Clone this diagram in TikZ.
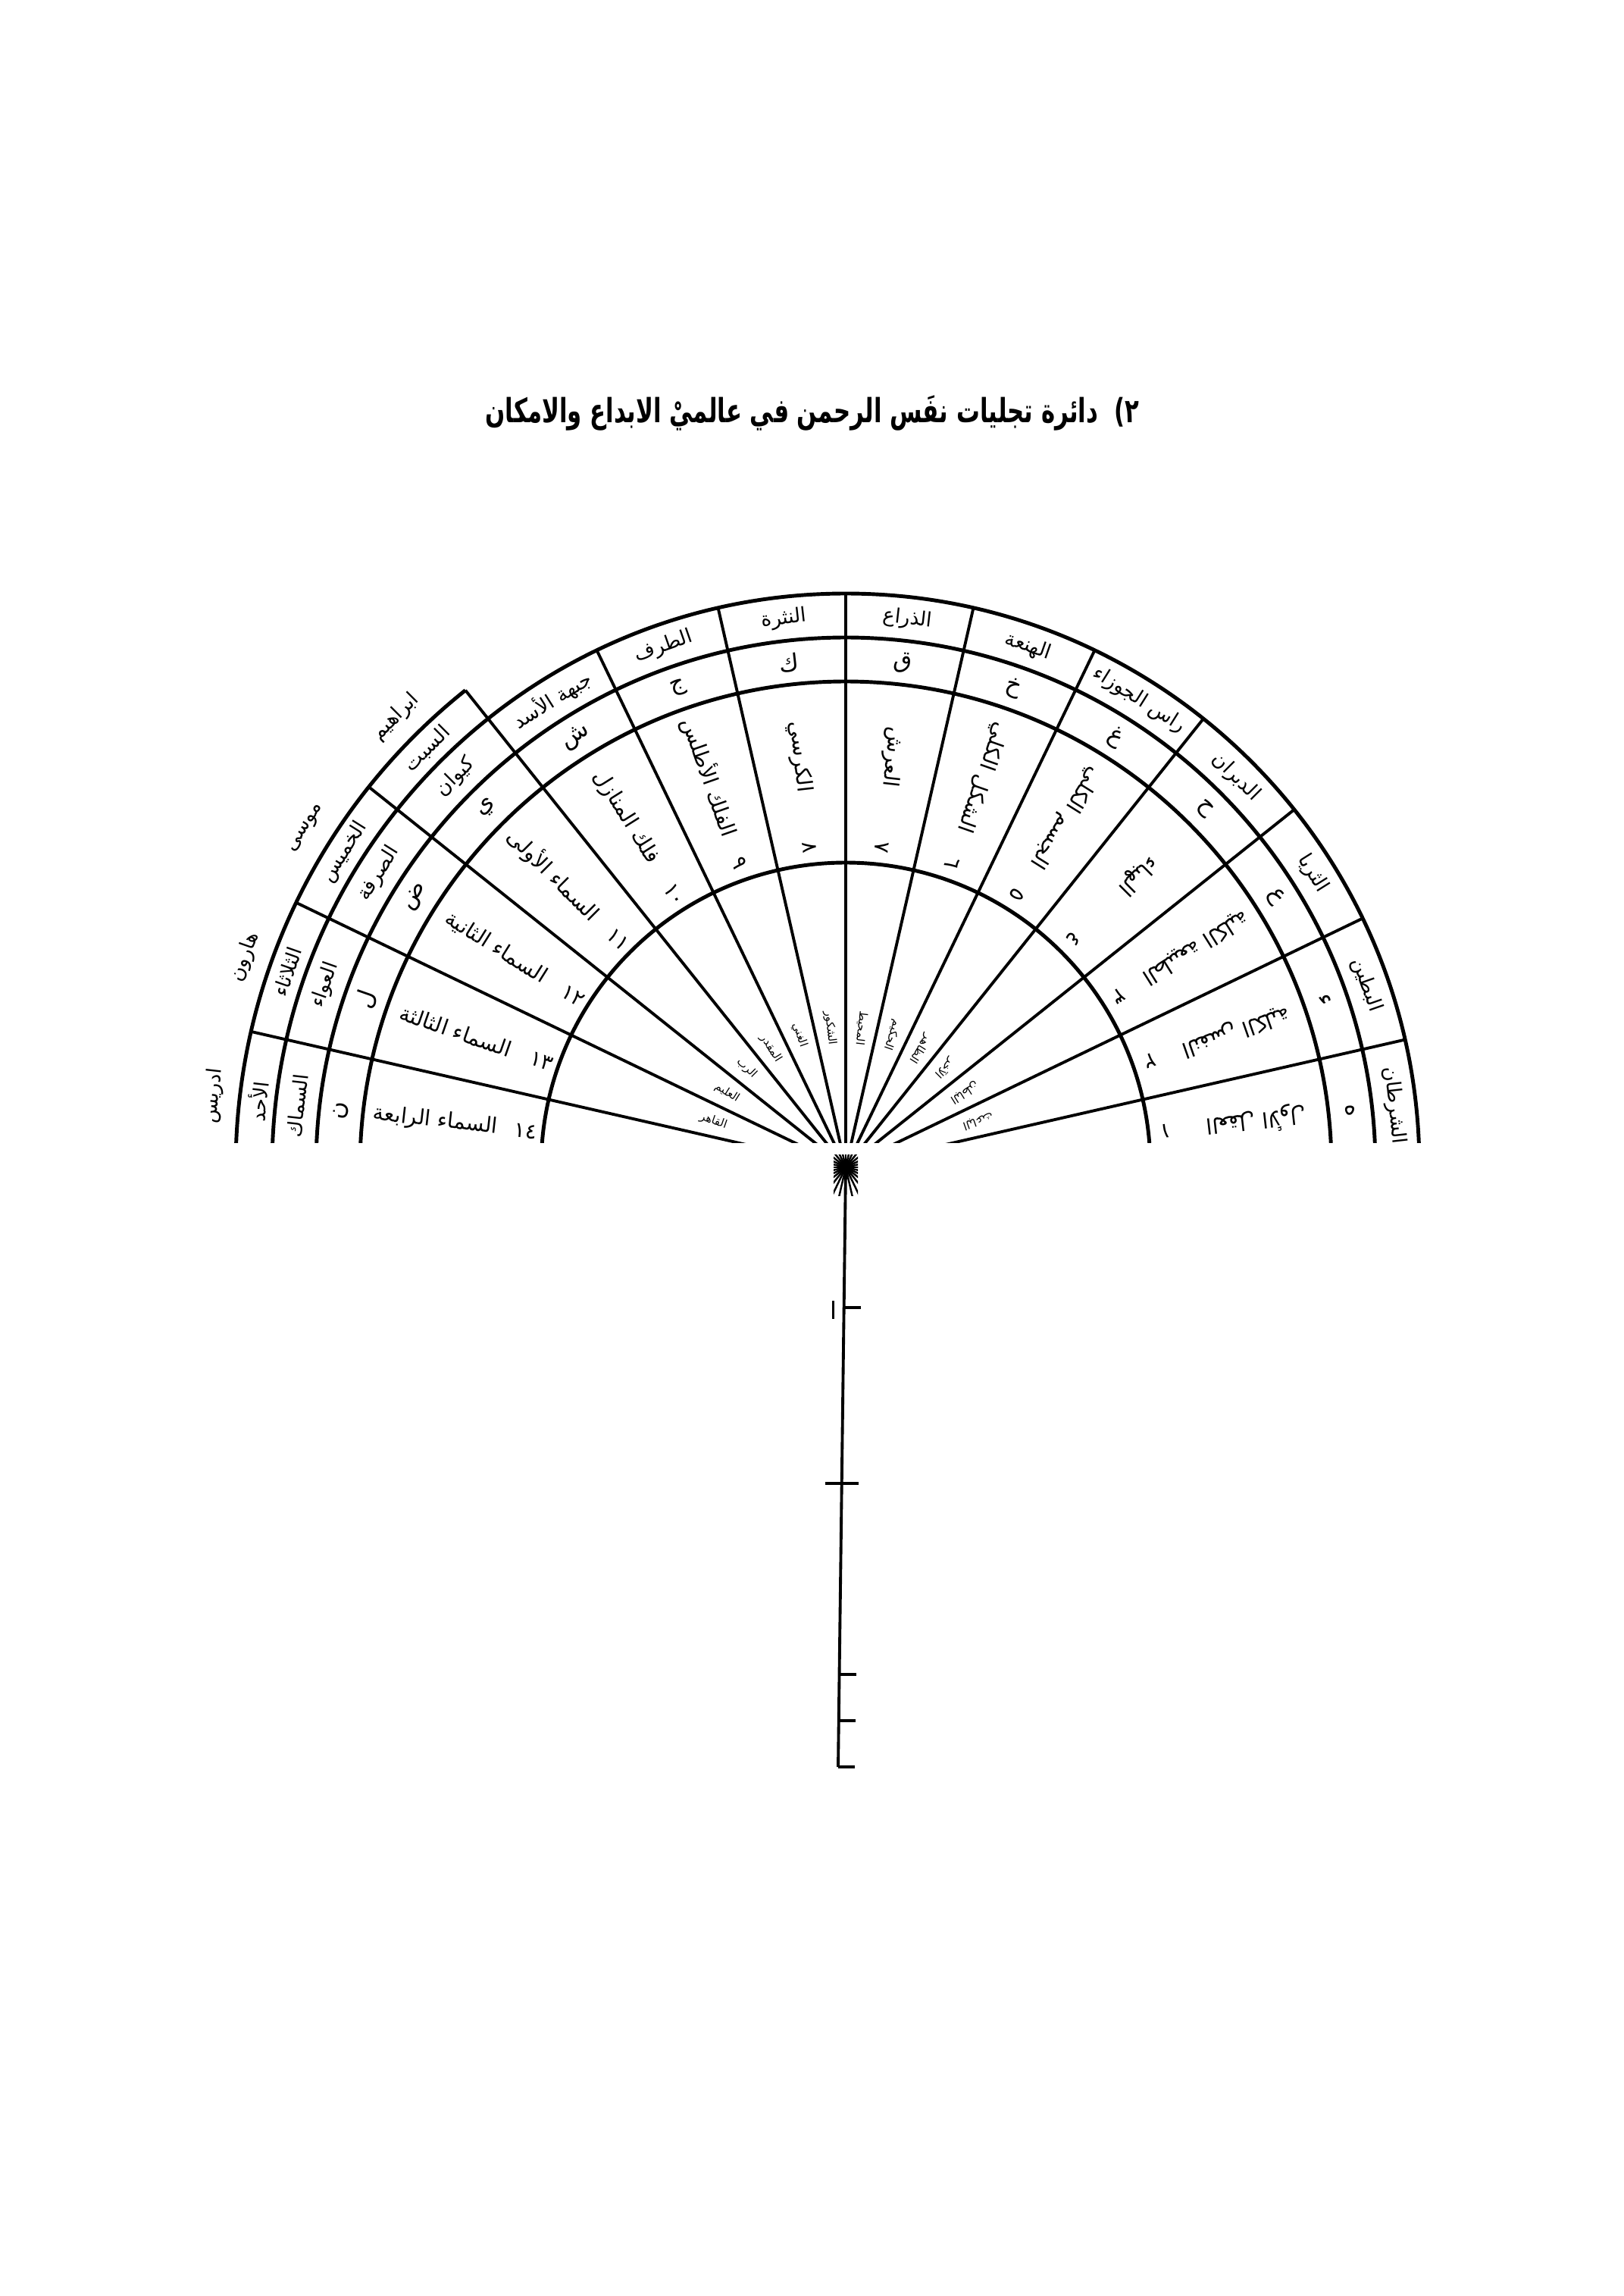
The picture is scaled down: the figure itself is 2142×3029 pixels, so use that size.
\documentclass[tikz,border=0pt]{standalone}
\usepackage{fontspec}
\newfontfamily\arabicfont[Script=Arabic]{DejaVu Sans}
\TeXXeTstate=1

\begin{document}
\begin{tikzpicture}[x=0.1mm, y=0.1mm, line width=1.1pt,
  ring/.style={line width=1.4pt},
  ttl/.style={font=\arabicfont\bfseries\fontsize{12.5}{14}\selectfont},
  mans/.style={inner sep=0pt, font=\arabicfont\fontsize{7.5}{9}\selectfont},
  harf/.style={inner sep=0pt, font=\arabicfont\fontsize{9}{10}\selectfont},
  falak/.style={inner sep=0pt, font=\arabicfont\fontsize{8}{9}\selectfont},
  raqm/.style={inner sep=0pt, font=\arabicfont\fontsize{8}{9}\selectfont},
  ism/.style={inner sep=0pt, font=\arabicfont\fontsize{4.2}{5}\selectfont}]
  \useasboundingbox (0,0) rectangle (2142,-3029);
  % 제목
  \node[ttl] (title) at (1072,-545) {\scalebox{0.7}[1]{\beginR ٢)\ \ دائرة تجليات نفَس الرحمن في عالميْ الابداع والامكان\endR}};

  \begin{scope}[shift={(1116,-1540)}]
    \begin{scope}
      \clip (-950,33) rectangle (950,1000);
      % 원들
      \foreach \r in {402,641,699,757} \draw[ring] (0,0) circle[radius=\r];
      \draw[ring] (128.57:805) arc[start angle=128.57, end angle=180, radius=805];
      % 방사선
      \foreach \k in {0,...,9} \draw (0,0) -- ({\k*180/14}:757);
      \foreach \k in {10,...,14} \draw (0,0) -- ({\k*180/14}:805);
      % منازل
      \foreach \i/\t [evaluate=\i as \a using (\i-0.5)*180/14] in
        {1/الشرطان,2/البطين,3/الثريا,4/الدبران,5/راس الجوزاء,6/الهنعة,7/الذراع,
         8/النثرة,9/الطرف,10/جبهة الأسد,11/كيوان,12/الصرفة,13/العواء,14/السماك}
        \node[mans, rotate=\a-90] (man\i) at (\a:728) {\beginR\t\endR};
      % 글자
      \foreach \i/\t [evaluate=\i as \a using (\i-0.5)*180/14] in
        {1/ه,2/ء,3/ع,4/ح,5/غ,6/خ,7/ق,8/ك,9/ج,10/ش,11/ي,12/ض,13/ل,14/ن}
        \node[harf, rotate=\a-90] (let\i) at (\a:670) {\beginR\t\endR};
      % 층
      \foreach \i/\t [evaluate=\i as \a using (\i-0.5)*180/14] in
        {1/العقل الأول,2/النفس الكلية,3/الطبيعة الكلية,4/الهباء,5/الجسم الكلي,
         6/الشكل الكلي,7/العرش,8/الكرسي,9/الفلك الأطلس,10/فلك المنازل,
         11/السماء الأولى,12/السماء الثانية,13/السماء الثالثة,14/السماء الرابعة}
        \node[falak, rotate=\a-180] (txt\i) at (\a:545) {\beginR\t\endR};
      % 숫자
      \foreach \i/\t [evaluate=\i as \a using (\i-0.5)*180/14] in
        {1/١,2/٢,3/٣,4/٤,5/٥,6/٦,7/٧,8/٨,9/٩,10/١٠,11/١١,12/١٢,13/١٣,14/١٤}
        \node[raqm, rotate=\a-180] (num\i) at (\a:425) {\t};
      % 이름
      \foreach \i/\t [evaluate=\i as \a using (\i-0.5)*180/14] in
        {1/البديع,2/الباعث,3/الباطن,4/الآخر,5/الظاهر,6/الحكيم,7/المحيط,
         8/الشكور,9/الغني,10/المقدر,11/الرب,12/العليم,13/القاهر,14/النور}
        \node[ism, rotate=\a-180] (nam\i) at (\a:185) {\beginR\t\endR};
      % 요일과 예언자
      \foreach \i/\d/\p [evaluate=\i as \a using (\i-0.5)*180/14] in
        {11/السبت/ابراهيم,12/الخميس/موسى,13/الثلاثاء/هارون,14/الأحد/ادريس}{
        \node[mans, rotate=\a-90] (day\i) at (\a:781) {\beginR\d\endR};
        \node[mans, rotate=\a-90] (pro\i) at (\a:840) {\beginR\p\endR};
      }
    \end{scope}
    % 중심 매듭
    \begin{scope}
      \clip (-16,-37) rectangle (16,17);
      \foreach \k in {0,...,14} \draw[line width=0.7pt] ({\k*180/14}:-60) -- ({\k*180/14}:60);
    \end{scope}
    % 줄기와 눈금
    \draw (0,0) -- (-10,-791);
    \foreach \y in {185,669,730,791} \draw ({-10*\y/791},-\y) -- ++(22,0);
    \draw ({-10*417/791-22},-417) -- ++(44,0);
    \draw[line width=0.7pt] ({-10*185/791-14},-176) -- ++(0,-24);
  \end{scope}
\end{tikzpicture}
\end{document}
